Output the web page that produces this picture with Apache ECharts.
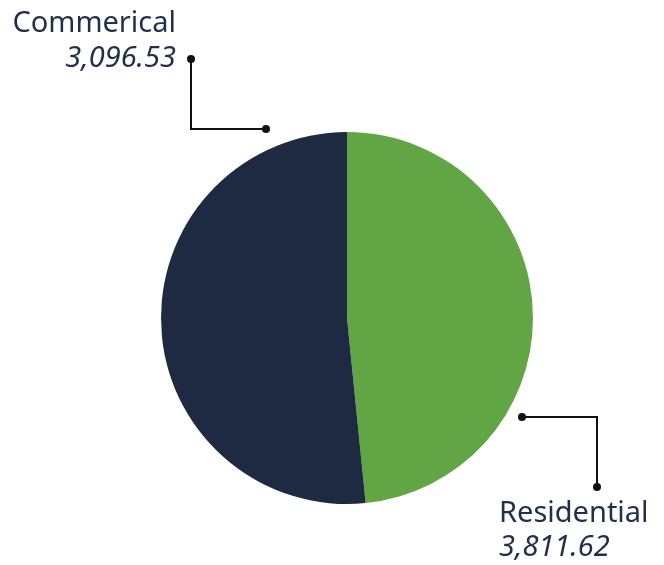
<!DOCTYPE html>
<html><head><meta charset="utf-8">
<script src="https://cdn.jsdelivr.net/npm/echarts@6/dist/echarts.min.js"></script>
<style>html,body{margin:0;padding:0;background:#fff}#c{width:664px;height:565px}</style>
</head><body><div id="c"></div>
<script>
// Data
const categories = ['Residential', 'Commerical'];
const labelValues = [3811.62, 3096.53];
// share of the circle each slice covers in the picture (percent)
const sliceShares = [48.4, 51.6];
const colors = ['#62a545', '#1e2a42'];

const CX = 347, CY = 318, R = 186;
const FONT = '"Noto Sans"';
const FS = 29;
const TEXT = '#1f2f4d';

const fmt = v => v.toLocaleString('en-US', {minimumFractionDigits: 2, maximumFractionDigits: 2});

// leader geometry relative to centre: start point, horizontal run, vertical run
const leaders = [
  {start: [175, 99], dx: 75, dy: 70, side: 'right'},
  {start: [-81, -189], dx: -75, dy: -70, side: 'left'}
];

const graphics = [];
leaders.forEach((L, i) => {
  const a = [CX + L.start[0], CY + L.start[1]];
  const b = [a[0] + L.dx, a[1]];
  const c = [b[0], b[1] + L.dy];
  graphics.push({type: 'polyline', shape: {points: [a, b, c]}, style: {stroke: '#111', lineWidth: 2, fill: null}, z: 10});
  [a, c].forEach(p => graphics.push({type: 'circle', shape: {cx: p[0], cy: p[1], r: 4}, style: {fill: '#111'}, z: 11}));
  const nameFont = FS + 'px ' + FONT;
  const valFont = 'italic ' + FS + 'px ' + FONT;
  if (L.side === 'left') {
    graphics.push({type: 'text', x: c[0] - 15, y: c[1] - 35, style: {text: categories[i], font: nameFont, fill: TEXT, textAlign: 'right', textVerticalAlign: 'middle'}});
    graphics.push({type: 'text', x: c[0] - 15, y: c[1], style: {text: fmt(labelValues[i]), font: valFont, fill: TEXT, textAlign: 'right', textVerticalAlign: 'middle'}});
  } else {
    graphics.push({type: 'text', x: c[0] - 98, y: c[1] + 27, style: {text: categories[i], font: nameFont, fill: TEXT, textAlign: 'left', textVerticalAlign: 'middle'}});
    graphics.push({type: 'text', x: c[0] - 98, y: c[1] + 61, style: {text: fmt(labelValues[i]), font: valFont, fill: TEXT, textAlign: 'left', textVerticalAlign: 'middle'}});
  }
});

const chart = echarts.init(document.getElementById('c'), null, {renderer: 'canvas'});
chart.setOption({
  animation: false,
  backgroundColor: '#fff',
  graphic: graphics,
  series: [{
    type: 'pie',
    center: [CX, CY],
    radius: R,
    startAngle: 90,
    clockwise: true,
    label: {show: false},
    labelLine: {show: false},
    itemStyle: {borderWidth: 0},
    emphasis: {disabled: true},
    data: categories.map((n, i) => ({name: n, value: sliceShares[i], itemStyle: {color: colors[i]}}))
  }]
});
</script></body></html>
